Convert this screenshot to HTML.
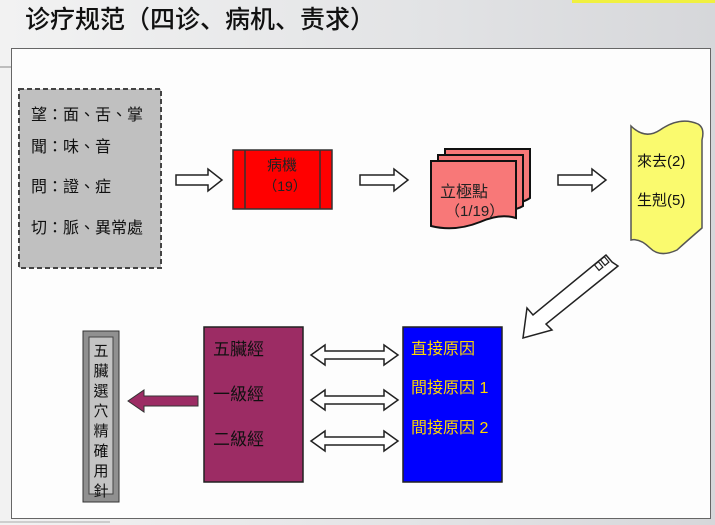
<!DOCTYPE html>
<html><head><meta charset="utf-8"><style>
html,body{margin:0;padding:0;width:715px;height:525px;overflow:hidden;background:linear-gradient(90deg,#f2f2f2,#e2e3e5 60%,#d6d7da);}
svg{display:block;font-family:"Liberation Sans","Noto Sans CJK TC",sans-serif;}
</style></head><body>
<svg width="715" height="525" viewBox="0 0 715 525">
<rect x="572" y="0" width="143" height="3" fill="#f0f040"/>
<text x="25" y="28" font-size="25" fill="#111" font-family="'Noto Sans CJK SC',sans-serif" font-weight="500">诊疗规范（四诊、病机、责求）</text>
<line x1="0" y1="67" x2="12" y2="67" stroke="#888"/>
<rect x="11.5" y="48.5" width="699" height="470" fill="#fdfdfd" stroke="#666"/>
<rect x="19" y="89" width="142" height="179" fill="#c0c0c0" stroke="#444" stroke-width="2" stroke-dasharray="5,3"/>
<g font-size="16" fill="#111">
<text x="31" y="120">望：面、舌、掌</text>
<text x="31" y="152">聞：味、音</text>
<text x="31" y="192">問：證、症</text>
<text x="31" y="233">切：脈、異常處</text>
</g>
<g fill="#fff" stroke="#222" stroke-width="1.5">
<path d="M176,175 H208 V169 L222,180 L208,191 V185 H176 Z"/>
<path d="M360,175 H394 V169 L408,180 L394,191 V185 H360 Z"/>
<path d="M558,175 H592 V169 L606,180 L592,191 V185 H558 Z"/>
<path d="M612,262 L606,255 L533,315 L527,308 L523,338 L552,330 L546,324 L618,266 Z"/>
</g>
<g fill="#fff" stroke="#222" stroke-width="1.2">
<rect x="596" y="263" width="5" height="7" transform="rotate(-40 598 266)"/>
<rect x="602" y="258" width="5" height="7" transform="rotate(-40 604 261)"/>
</g>
<rect x="233" y="150" width="99" height="59" fill="#ff0000" stroke="#333" stroke-width="1.5"/>
<line x1="245" y1="150" x2="245" y2="209" stroke="#333" stroke-width="1.5"/>
<line x1="320" y1="150" x2="320" y2="209" stroke="#333" stroke-width="1.5"/>
<text x="282" y="170" font-size="15" text-anchor="middle" fill="#222">病機</text>
<text x="285" y="191" font-size="14" text-anchor="middle" fill="#222">（19）</text>
<g fill="#f87878" stroke="#111" stroke-width="2">
<path d="M445,149 H530 V198 Q520,205 510,200 L445,198 Z"/>
<path d="M438,155 H523 V206 Q513,212 503,207 L438,205 Z"/>
<path d="M431,161 H516 V218 Q500,213 480,222 Q455,232 431,226 Z"/>
</g>
<text x="440" y="197" font-size="16" fill="#222">立極點</text>
<text x="445" y="216" font-size="15" fill="#222">（1/19）</text>
<path d="M631,126 Q645,140 660,130 Q680,116 698,124 Q705,128 702,140 V228 Q688,240 677,250 Q660,258 650,248 Q640,238 631,240 Z" fill="#fafa6e" stroke="#555" stroke-width="1.5"/>
<text x="637" y="166" font-size="15" fill="#111">來去(2)</text>
<text x="637" y="205" font-size="15" fill="#111">生剋(5)</text>
<rect x="403" y="327" width="99" height="155" fill="#0000ff" stroke="#222" stroke-width="1.5"/>
<g font-size="16" fill="#ffd700">
<text x="411" y="354">直接原因</text>
<text x="411" y="393">間接原因 1</text>
<text x="411" y="433">間接原因 2</text>
</g>
<rect x="204" y="327" width="99" height="155" fill="#9c2c64" stroke="#222" stroke-width="1.5"/>
<g font-size="17" fill="#111">
<text x="213" y="355">五臟經</text>
<text x="213" y="400">一級經</text>
<text x="213" y="445">二級經</text>
</g>
<g fill="#fff" stroke="#222" stroke-width="1.5">
<path d="M311,355 L325,345 V351 H384 V345 L398,355 L384,365 V359 H325 V365 Z"/>
<path d="M311,400 L325,390 V396 H384 V390 L398,400 L384,410 V404 H325 V410 Z"/>
<path d="M311,441 L325,431 V437 H384 V431 L398,441 L384,451 V445 H325 V451 Z"/>
</g>
<path d="M198,396 H144 V390 L128,401 L144,412 V406 H198 Z" fill="#9c2c64" stroke="#333"/>
<rect x="83" y="331" width="36" height="171" fill="#909090" stroke="#333"/>
<rect x="89" y="337" width="24" height="157" fill="#c4c4c4" stroke="#444"/>
<g font-size="15" fill="#111" text-anchor="middle">
<text x="101" y="356">五</text><text x="101" y="376">臟</text><text x="101" y="396">選</text><text x="101" y="416">穴</text><text x="101" y="436">精</text><text x="101" y="456">確</text><text x="101" y="476">用</text><text x="101" y="496">針</text>
</g>
<line x1="0" y1="522" x2="110" y2="522" stroke="#aaa"/>
</svg>
</body></html>
